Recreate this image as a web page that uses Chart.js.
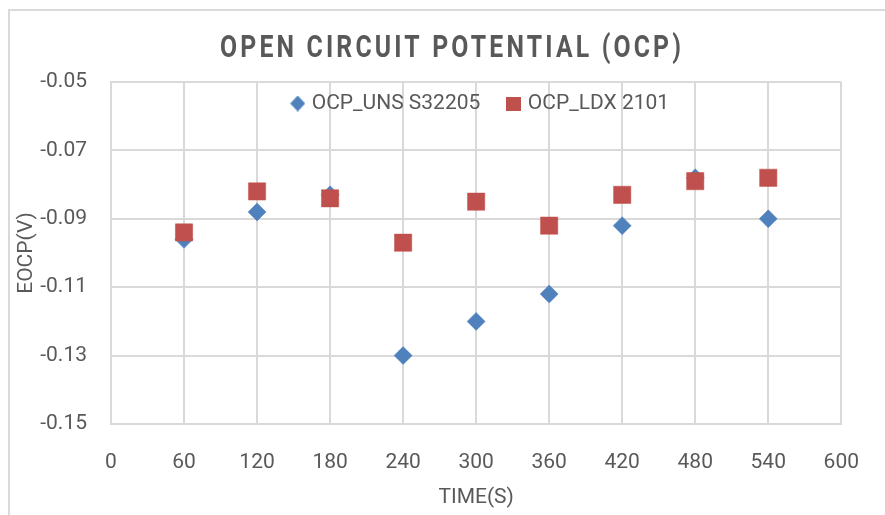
<!DOCTYPE html>
<html><head><meta charset="utf-8">
<script src="https://cdn.jsdelivr.net/npm/chart.js@4.4.1/dist/chart.umd.min.js"></script>
<style>
html,body{margin:0;padding:0;background:#fff;overflow:hidden}
#wrap{position:relative;width:885px;height:515px;overflow:hidden;background:#fff}
#frame{position:absolute;left:8px;top:9px;width:1000px;height:1000px;border:2px solid #D9D9D9;box-sizing:border-box}
canvas{position:absolute;left:0;top:0}
</style></head><body>
<div id="wrap"><div id="frame"></div><canvas id="c" width="885" height="515"></canvas></div>
<script>
// ---- data ----
const TITLE = 'OPEN CIRCUIT POTENTIAL (OCP)';
const X_LABEL = 'TIME(S)';
const Y_LABEL = 'EOCP(V)';
const SERIES_NAMES = ['OCP_UNS S32205', 'OCP_LDX 2101'];
const TIME_S  = [60, 120, 180, 240, 300, 360, 420, 480, 540];
const OCP_UNS = [-0.096, -0.088, -0.083, -0.130, -0.120, -0.112, -0.092, -0.078, -0.090];
const OCP_LDX = [-0.094, -0.082, -0.084, -0.097, -0.085, -0.092, -0.083, -0.079, -0.078];
const X_TICKS = [0, 60, 120, 180, 240, 300, 360, 420, 480, 540, 600];
const Y_TICKS = [-0.15, -0.13, -0.11, -0.09, -0.07, -0.05];

// ---- styles ----
const BLUE = '#4F81BD', RED = '#C0504D', TXT = '#595959', GRID = '#D9D9D9';
const FONT = "Roboto, 'Liberation Sans', sans-serif";
const TITLE_FONT = "Roboto, 'Liberation Sans', sans-serif";
const TITLE_SIZE = 31, TITLE_SX = 0.8, TITLE_LEFT = 220, TITLE_WIDTH = 461;
const LEGEND_SHIFT = 5.5;

function marker(shape, color, w, h) {
  const c = document.createElement('canvas');
  c.width = w; c.height = h;
  const g = c.getContext('2d');
  g.fillStyle = color;
  if (shape === 'diamond') {
    g.beginPath(); g.moveTo(w / 2, 0); g.lineTo(w, h / 2); g.lineTo(w / 2, h); g.lineTo(0, h / 2); g.closePath(); g.fill();
  } else { g.fillRect(0, 0, w, h); }
  return c;
}
const LEGEND_MARKS = [marker('diamond', BLUE, 15, 16), marker('square', RED, 15, 14)];

// title letter spacing computed to match the reference width (narrowed glyphs)
const mctx = document.createElement('canvas').getContext('2d');
mctx.font = 'bold ' + TITLE_SIZE + 'px ' + TITLE_FONT;
const plainW = mctx.measureText(TITLE).width;
const SPACING = Math.max(0, (TITLE_WIDTH / TITLE_SX - plainW) / (TITLE.length - 1));

const patches = {
  id: 'patches',
  beforeDraw(chart) {
    const tb = chart.titleBlock;
    if (tb && !tb.__patched) {
      tb.__patched = true;
      const orig = tb.draw;
      tb.draw = function () {
        const c = this.ctx;
        const center = (this.left + this.right) / 2;
        c.save();
        c.letterSpacing = SPACING.toFixed(2) + 'px';
        c.translate(TITLE_LEFT + TITLE_WIDTH / 2 - TITLE_SX * (center - SPACING / 2), 0);
        c.scale(TITLE_SX, 1);
        orig.call(this);
        c.restore();
      };
    }
    const lg = chart.legend;
    if (lg && !lg.__patched) {
      lg.__patched = true;
      lg.draw = function () {
        if (!this.options.display) return;
        const c = this.ctx;
        c.save();
        c.translate(LEGEND_SHIFT, 0);
        this._draw();
        c.restore();
      };
    }
  }
};

new Chart(document.getElementById('c'), {
  type: 'scatter',
  data: {
    datasets: [
      { label: SERIES_NAMES[0], data: TIME_S.map((t, i) => ({x: t, y: OCP_UNS[i]})),
        pointStyle: 'rectRot', pointRadius: 9, pointHoverRadius: 9, backgroundColor: BLUE, borderColor: BLUE, borderWidth: 0.5, order: 2 },
      { label: SERIES_NAMES[1], data: TIME_S.map((t, i) => ({x: t, y: OCP_LDX[i]})),
        pointStyle: 'rect', pointRadius: 12.2, pointHoverRadius: 12.2, backgroundColor: RED, borderColor: RED, borderWidth: 0.5, order: 1 }
    ]
  },
  options: {
    responsive: false, animation: false, devicePixelRatio: 1,
    layout: { padding: { left: 0, right: 43, top: 0, bottom: 0 } },
    plugins: {
      tooltip: { enabled: false },
      title: {
        display: true, text: TITLE, color: TXT,
        font: { family: TITLE_FONT, size: TITLE_SIZE, weight: 'bold', lineHeight: 1.2 },
        padding: { top: 30.4, bottom: -4.6 }
      },
      legend: {
        display: true, position: 'top', fullSize: false, maxHeight: 19,
        labels: {
          usePointStyle: true, boxWidth: 7, boxHeight: 7, padding: 30, color: TXT,
          font: { family: FONT, size: 21 },
          sort: (a, b) => a.datasetIndex - b.datasetIndex,
          generateLabels(chart) {
            const items = Chart.defaults.plugins.legend.labels.generateLabels(chart);
            items.forEach(it => { it.pointStyle = LEGEND_MARKS[it.datasetIndex]; it.lineWidth = 0; });
            return items;
          }
        }
      }
    },
    scales: {
      x: {
        type: 'linear', min: 0, max: 600,
        afterBuildTicks(s) { s.ticks = X_TICKS.map(v => ({ value: v })); },
        afterFit(s) { s.height = 91; },
        ticks: { color: TXT, font: { family: FONT, size: 21 }, padding: 26, maxRotation: 0, autoSkip: false },
        grid: { color: GRID, lineWidth: 2, drawTicks: false },
        border: { color: GRID, width: 2 },
        title: { display: true, text: X_LABEL, color: TXT, font: { family: FONT, size: 21 }, padding: { top: 0, bottom: 5 } }
      },
      y: {
        type: 'linear', min: -0.15, max: -0.05,
        afterBuildTicks(s) { s.ticks = Y_TICKS.map(v => ({ value: v })); },
        afterFit(s) { s.width = 111; },
        ticks: { color: TXT, font: { family: FONT, size: 21 }, padding: 24, callback: v => v.toFixed(2) },
        grid: { color: GRID, lineWidth: 2, drawTicks: false },
        border: { color: GRID, width: 2 },
        title: { display: true, text: Y_LABEL, color: TXT, font: { family: FONT, size: 21 }, padding: { top: 14.4, bottom: 0 } }
      }
    }
  },
  plugins: [patches]
});
</script>
</body></html>
